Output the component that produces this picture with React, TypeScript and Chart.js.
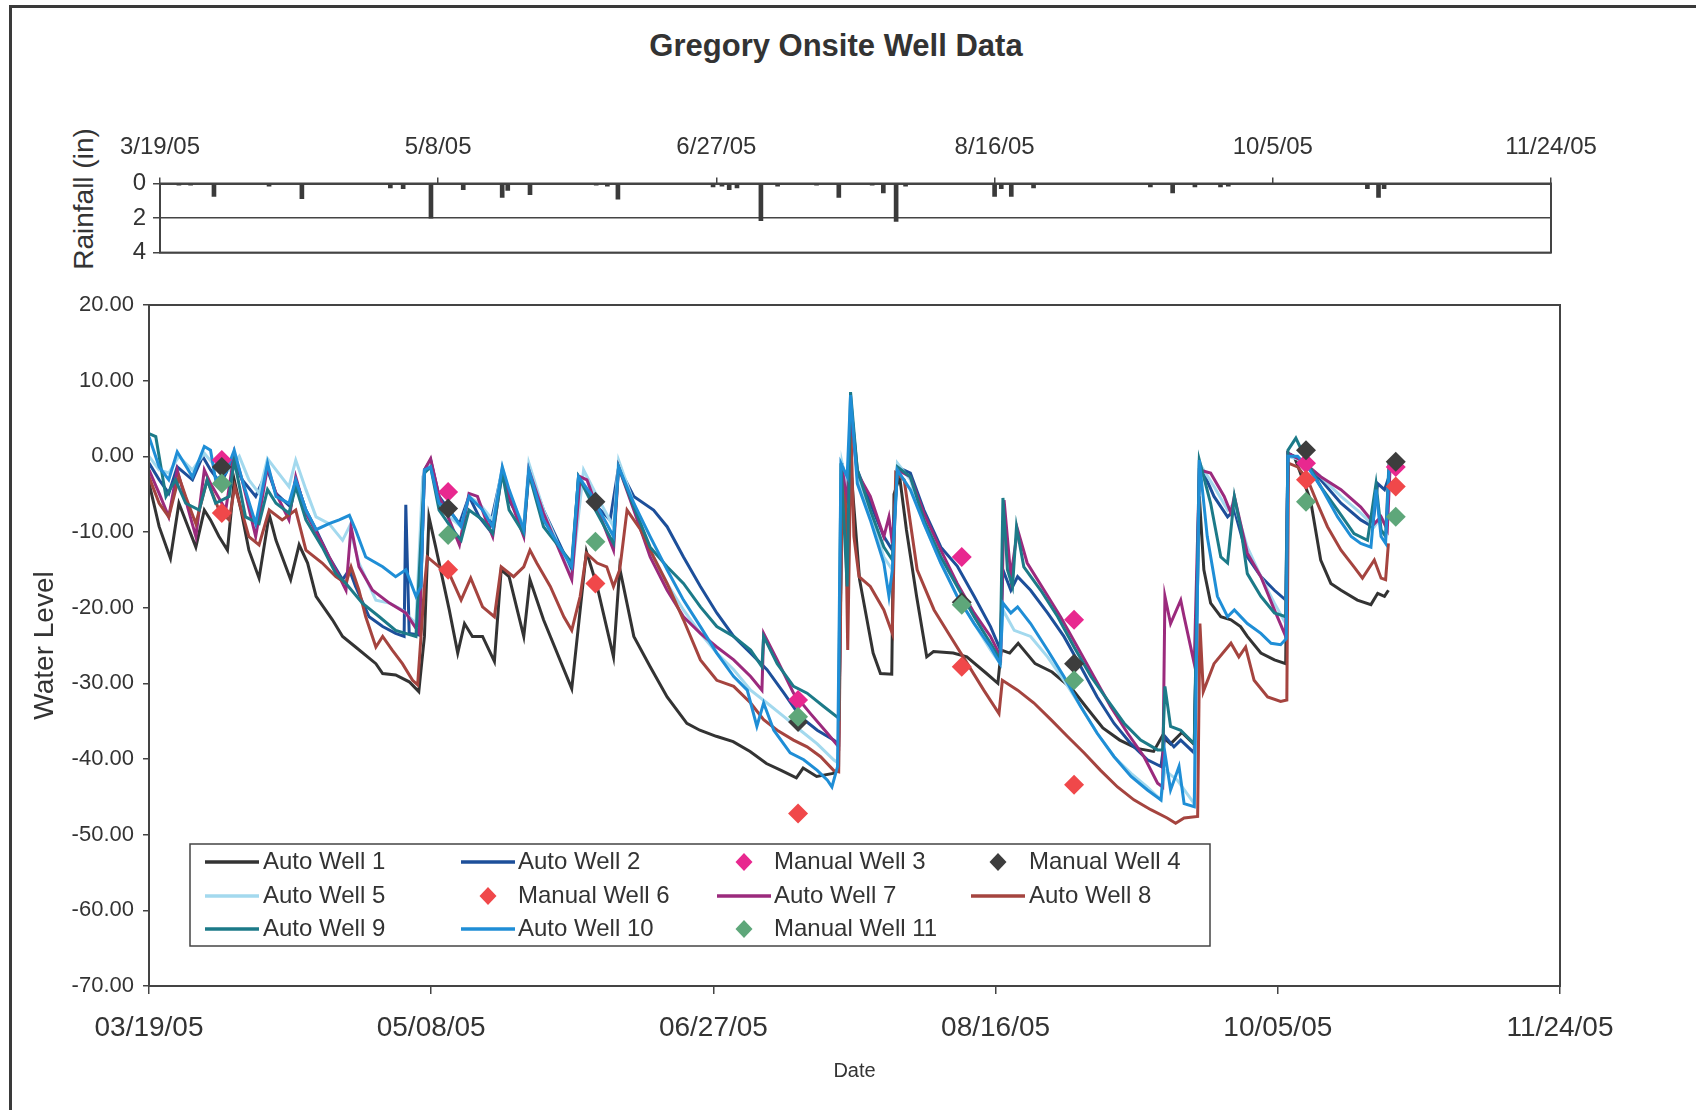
import React, { useEffect, useRef } from "react";
import { Chart, registerables } from "chart.js";

Chart.register(...registerables);

const FONT = "'Liberation Sans', Arial, Helvetica, sans-serif";
const TEXT = "#333333";
const AXIS = "#444444";

// ---------- tick labels ----------
const rainTickLabels = ["3/19/05", "5/8/05", "6/27/05", "8/16/05", "10/5/05", "11/24/05"];
const dateTickLabels = ["03/19/05", "05/08/05", "06/27/05", "08/16/05", "10/05/05", "11/24/05"];

// ---------- rainfall (days after 3/19/05, inches) ----------
const rainDays = [3.4, 5.5, 9.7, 19.6, 25.5, 41.4, 43.7, 48.7, 54.5, 61.5, 62.5, 66.5, 78.4, 80.4, 82.3, 99.4, 101, 102.3, 103.7, 108, 111, 118, 122, 128, 130, 132.3, 134, 150, 151.2, 153, 157, 178, 182, 186, 190.6, 192, 217, 219, 220];
const rainInches = [0.1, 0.1, 0.75, 0.15, 0.88, 0.25, 0.3, 2.0, 0.35, 0.8, 0.4, 0.65, 0.1, 0.15, 0.9, 0.2, 0.15, 0.35, 0.25, 2.15, 0.15, 0.1, 0.8, 0.1, 0.55, 2.2, 0.15, 0.75, 0.3, 0.75, 0.25, 0.2, 0.55, 0.2, 0.2, 0.15, 0.3, 0.8, 0.3];

// ---------- water level series: [day after 3/19/05, level] ----------
const autoWell1: [number, number][] = [[0,-3.5],[1.8,-9.3],[3.8,-13.5],[5.3,-6.2],[8.3,-12],[9.8,-7.1],[10.9,-8.4],[12.4,-10.6],[13.9,-12.4],[15.1,-3.1],[16.3,-7.1],[17.7,-12.4],[19.5,-16.1],[21.3,-7.7],[22.5,-11.1],[25.1,-16.3],[26.6,-11.7],[28.1,-14.1],[29.6,-18.5],[32.5,-21.6],[34.3,-23.8],[36.6,-25.2],[40.2,-27.4],[41.4,-28.7],[43.7,-28.9],[46.1,-29.8],[47.8,-31.1],[48.8,-23.8],[49.6,-8],[50.8,-12],[53.2,-20.3],[54.7,-26],[55.9,-22.1],[57.3,-23.8],[59.1,-23.8],[61.2,-27.1],[62.4,-15],[63.8,-15.9],[66.4,-23.8],[67.5,-16.3],[69.9,-21.6],[74.9,-30.7],[77.5,-12.6],[79.4,-17.2],[82.3,-26.5],[83.4,-14.8],[85.9,-23.8],[88.8,-27.8],[91.8,-31.8],[95.3,-35.3],[97.6,-36.2],[100.5,-37],[103.5,-37.7],[106.5,-39],[109.4,-40.6],[112,-41.5],[114.7,-42.5],[115.9,-41.2],[118.3,-42.3],[121.2,-41.9],[122.1,-41.5],[122.8,-5],[124.4,-2],[125.9,-16.3],[128.3,-26],[129.6,-28.7],[131.6,-28.8],[132,-5],[133,-2.7],[134.2,-9.7],[136,-18.5],[137.8,-26.5],[139,-25.8],[142.5,-26],[144.9,-26.5],[148.4,-28.7],[150.4,-30],[151,-25.6],[152.5,-26],[154,-24.7],[157,-27.4],[160,-28.5],[163.5,-30.7],[166,-33.1],[169,-35.9],[172,-37.5],[175,-38.6],[178,-39],[179.5,-37],[181,-38],[183,-36.5],[185.2,-38.1],[186.1,-5.3],[186.9,-15],[188.1,-19.4],[189.9,-21.2],[191.7,-21.6],[193.4,-22.5],[194.6,-23.8],[197,-26],[199.4,-26.9],[201.4,-27.4],[201.8,0.4],[202.9,0],[205.8,-5.8],[207.6,-13.7],[209.4,-16.8],[211.2,-17.7],[214.1,-19],[216.5,-19.6],[217.7,-18.1],[218.9,-18.5],[219.6,-17.7]];

const autoWell2: [number, number][] = [[0,-0.9],[1.8,-3.1],[3.5,-4.9],[5,-1.4],[7.7,-3.1],[9.5,0],[10.9,-1.8],[12.7,-3.6],[14.8,-0.5],[16.5,-3.1],[18.9,-5.3],[21,-1.8],[22.5,-4.9],[25.1,-6.7],[26,-3.1],[27.8,-7.1],[29.6,-9.7],[31.9,-13.3],[34.3,-16.3],[35.5,-15],[36.6,-17.2],[39,-21.2],[41.4,-22.5],[43.7,-23.4],[45.2,-23.8],[45.5,-6.4],[46.1,-23.4],[47.9,-23.6],[48.8,-1.8],[49.9,-0.5],[51.4,-5.3],[53.2,-7.1],[55,-8.9],[56.7,-5.3],[58.5,-8],[60.3,-9.7],[62.6,-1.8],[63.8,-5.8],[66.4,-9.3],[67.3,-1.8],[69.9,-7.1],[74.9,-15],[76.1,-2.7],[78.8,-6.2],[81.7,-8.4],[83.2,-1.4],[85.9,-5.3],[89.4,-7.1],[91.8,-9.3],[94.7,-13.3],[97.7,-17.2],[100.6,-20.7],[103.6,-23.8],[106.6,-26],[109.5,-28.2],[112.5,-31.3],[115.4,-34.4],[118.4,-36.2],[121.3,-37.5],[122.2,-38],[122.8,-0.9],[123.7,-5],[124.4,6.5],[125.5,-1.8],[127.8,-6.2],[130.2,-10.6],[131.7,-12.4],[132.6,-1.4],[134.9,-2.2],[137.3,-7.1],[140.3,-12],[143.2,-14.5],[146.2,-18.5],[149.1,-22.5],[150.8,-25.5],[151.3,-15],[152.7,-17.7],[153.9,-15.9],[156.2,-17.7],[159.2,-20.7],[162.1,-23.8],[165.1,-27.8],[168,-31.8],[171,-35.3],[174,-38],[176.9,-40.1],[179.3,-41],[180,-37],[181.6,-38.4],[182.8,-37.5],[185.2,-39.2],[186.1,-0.9],[188.7,-5.3],[191.1,-8],[192.3,-7.1],[194.6,-13.3],[197,-15.9],[199.4,-17.7],[201.4,-19],[201.8,0.4],[204.1,-0.5],[207.6,-3.1],[211.2,-6.2],[214.7,-8.4],[216.8,-9.3],[217.7,-3.6],[218.9,-4.4],[219.7,-2.7]];

const autoWell5: [number, number][] = [[0,0],[1.8,-1.8],[3.5,-2.2],[5.3,0],[7.7,-1.8],[9.8,0.4],[11.8,-1.4],[14.2,-1.8],[16,0],[17.7,-3.1],[19.5,-4.9],[21,-0.3],[22.5,-1.8],[24.8,-4],[26,-0.5],[27.8,-4.4],[29.6,-8],[31.9,-8.9],[34.3,-11.1],[35.5,-9.3],[37.2,-14.1],[40.2,-19],[42.6,-19.4],[44.9,-20.3],[47.3,-22.1],[48.5,-2.7],[49.9,-0.9],[51.4,-5.8],[53.2,-8],[55.3,-9.3],[56.7,-5.3],[58.5,-6.2],[60.9,-8.4],[62.6,-1.4],[63.8,-4.9],[66.4,-9.3],[67.3,-0.9],[69.9,-7.1],[74.9,-15.9],[77,-1.8],[79.4,-5.3],[82.3,-9.3],[83.2,-0.5],[85.9,-6.2],[88.8,-12.4],[91.8,-16.8],[94.7,-20.3],[97.7,-23.4],[100.6,-26],[103.6,-28.2],[106.6,-30.9],[109.5,-32.6],[112.5,-34.4],[115.4,-36.2],[118.4,-38],[121.3,-40.1],[122.2,-40.6],[122.8,-0.9],[123.7,-4],[124.4,6.1],[125.5,-2.7],[127.8,-7.5],[130.2,-13.3],[131.7,-15],[132.6,-0.9],[134.9,-3.1],[137.3,-8.9],[140.3,-14.1],[143.2,-18.5],[146.2,-22.1],[149.1,-25.6],[150.8,-27.4],[151.3,-20.3],[153.3,-23],[156.2,-23.8],[159.2,-26.5],[162.1,-29.6],[165.1,-33.1],[168,-36.6],[171,-39.7],[174,-41.9],[176.9,-43.7],[179.3,-45.4],[180,-41.5],[182.2,-42.8],[185.2,-45.9],[186.1,-0.9],[188.7,-4],[191.1,-7.1],[192.3,-6.2],[194.6,-12],[197,-15.9],[199.4,-19.4],[201.4,-22.1],[201.8,0],[204.1,-0.5],[207.6,-2.7],[211.2,-5.3],[214.7,-7.5],[217.1,-9.3],[218.3,-8],[219.4,-9.3]];

const autoWell7: [number, number][] = [[0,-1.8],[1.8,-4.9],[3.5,-8],[5,-1.8],[8.3,-10.6],[9.8,-1.8],[10.9,-3.6],[13.6,-7.1],[15.1,0.4],[16.5,-3.1],[18.9,-10.6],[21,-1.4],[22.5,-4.9],[24.8,-8.4],[26,-2.7],[27.8,-7.5],[30.7,-11.5],[33.1,-15],[34.9,-17.7],[35.8,-9.3],[37.2,-14.6],[39.6,-17.7],[42.6,-19.4],[45.5,-20.7],[47.9,-23.4],[48.8,-1.8],[49.9,-0.3],[51.4,-5.3],[53.2,-8.4],[55,-11.7],[56.7,-4.9],[58.2,-5.3],[59.7,-8.4],[60.9,-10.6],[62.6,-1.8],[63.8,-5.3],[66.4,-10.6],[67.3,-1.8],[69.9,-7.5],[74.9,-16.3],[76.4,-2.7],[77.6,-3.1],[80,-8],[82.3,-12.4],[83.2,-1.4],[85.9,-7.1],[88.8,-13.3],[91.8,-17.7],[94.7,-21.2],[97.7,-23.4],[100.6,-25.2],[103.6,-26.9],[106.6,-29.1],[108.6,-30.9],[108.9,-23.4],[111.3,-26.9],[114.2,-31.3],[117.2,-34],[120.2,-36.6],[122.2,-38.4],[122.8,-1.4],[123.7,-6.2],[124.4,4.8],[125.5,-2.2],[127.8,-5.3],[130.2,-10.6],[131.1,-8],[131.7,-11.5],[132.6,-1.8],[134.9,-2.7],[137.3,-7.5],[140.3,-12.4],[143.2,-16.8],[146.2,-20.7],[149.1,-23.8],[150.9,-26.5],[151.5,-5.8],[152.7,-15.9],[153.9,-9.7],[155.6,-14.1],[158.6,-17.7],[161.5,-21.2],[164.5,-25.2],[167.4,-29.1],[170.4,-33.1],[173.4,-36.6],[176.3,-39.7],[178.7,-43.2],[179.6,-43.7],[180,-18.5],[181,-22.1],[182.8,-19],[183.4,-21.2],[185.2,-27.4],[186.1,-1.8],[188.1,-2.2],[190.5,-5.3],[191.7,-7.5],[192.3,-5.3],[194.6,-12.8],[197,-15.9],[199.4,-20.3],[201.4,-23.8],[201.8,0.4],[204.1,-0.5],[207.6,-2.7],[211.2,-4.4],[214.7,-6.7],[217.1,-8.9],[218.3,-8],[219.4,-9.7],[219.9,-1.4]];

const autoWell8: [number, number][] = [[0,-2.7],[1.8,-6.2],[3.5,-8],[5.3,-2.7],[6.5,-5.3],[8.3,-8.9],[10.3,-3.1],[12.4,-7.1],[14.2,-8.4],[15.2,-4],[17.7,-10.6],[19.5,-11.7],[21.3,-7.1],[23.6,-8.4],[26,-7.1],[27.8,-12.4],[30.7,-14.1],[33.1,-15.9],[34.9,-16.8],[35.8,-14.6],[37.2,-17.7],[38.4,-21.2],[40.2,-25.2],[41.4,-23.8],[43.1,-25.6],[44.9,-27.4],[46.7,-29.6],[47.6,-30.2],[48.8,-17.2],[49.3,-13.3],[51.4,-14.6],[53.2,-15.5],[55.3,-19],[57,-16.1],[59.1,-19.9],[61.2,-21.2],[62.4,-14.6],[64.6,-15.9],[66.4,-14.6],[67.5,-12.4],[68.7,-14.1],[71.1,-17.2],[73.5,-21.2],[74.9,-23],[76.4,-18.5],[77.5,-12.8],[79.4,-14.1],[81.1,-14.6],[82.3,-17.2],[83.4,-15],[84.7,-7.1],[87.1,-9.7],[89.4,-13.3],[91.8,-16.8],[94.7,-21.6],[97.7,-26.9],[100.6,-29.6],[103.6,-30.4],[106.6,-32.6],[108.9,-34.8],[111.3,-36.2],[114.2,-37.5],[116.6,-38.4],[119,-39.7],[121.3,-41.5],[122.2,-41.7],[122.8,-4],[123.4,-6.2],[123.8,-25.6],[124.4,2.6],[124.9,-10.6],[125.8,-15.9],[127.8,-17.2],[130.2,-20.3],[131.7,-23.4],[132.3,-2.2],[133.8,-3.1],[136.1,-15],[139.1,-20.3],[142,-23.8],[145,-27.4],[147.9,-30.9],[150.6,-34],[151.2,-29.6],[153.9,-30.9],[156.8,-32.6],[159.8,-34.8],[162.7,-37],[165.7,-39.2],[168.6,-41.5],[171.6,-43.7],[174.5,-45.4],[177.5,-46.7],[180.4,-47.8],[181.9,-48.5],[183.4,-47.8],[185.8,-47.6],[186.2,-22.1],[186.8,-31.1],[188.7,-27.4],[191.7,-24.7],[193.1,-26.5],[194.3,-25.2],[195.8,-29.6],[198.2,-31.8],[200.5,-32.4],[201.6,-32.2],[201.9,-0.9],[203.5,-1.4],[205.3,-3.1],[207,-6.2],[208.8,-9.3],[211.2,-12.4],[213.5,-14.6],[215,-16.1],[217.1,-13.7],[218.3,-16.1],[219.1,-16.3],[219.6,-11.5]];

const autoWell9: [number, number][] = [[0,3],[1.2,2.6],[3,-5.3],[4.7,-3.1],[6.5,-6.2],[8.9,-7.1],[10.3,-3.1],[11.8,-6.2],[14.2,-5.3],[15.1,-0.5],[17.1,-8],[19.5,-8.9],[21,-4.4],[22.5,-6.2],[24.8,-7.5],[26,-4],[27.8,-8.4],[30.7,-12],[33.1,-15.5],[34.9,-16.8],[37.8,-19.4],[40.8,-21.2],[43.7,-23],[47.3,-23.8],[48.8,-2.2],[49.9,-1.4],[51.4,-7.1],[53.8,-9.7],[55.3,-11.1],[56.7,-7.1],[59.1,-8.4],[60.9,-10.2],[62.6,-2.2],[63.8,-7.1],[66.4,-10.2],[67.3,-2.2],[69.9,-9.3],[74.9,-14.1],[76.1,-2.7],[78.8,-6.7],[82.3,-11.5],[83.2,-1.4],[85.9,-6.7],[88.8,-12],[91.8,-14.6],[94.7,-16.8],[97.7,-19.9],[100.6,-22.5],[103.6,-23.8],[106.6,-25.6],[108.6,-27.8],[108.9,-23.8],[111.3,-27.4],[114.2,-30.4],[116.6,-31.3],[119.6,-33.1],[122.2,-34.6],[122.6,-0.9],[123.7,-17.2],[124.3,8.5],[125.5,-1.8],[127.8,-7.1],[130.2,-12],[131.7,-13.7],[132.6,-1.4],[134.9,-2.7],[137.3,-8.4],[140.3,-13.3],[143.2,-17.2],[146.2,-21.2],[149.1,-24.7],[150.8,-26.9],[151.3,-5.5],[152.1,-15],[153,-17.2],[153.7,-9.3],[155,-14.6],[158,-17.7],[161,-21.2],[163.9,-25.2],[166.9,-29.1],[169.8,-32.2],[172.8,-35.3],[175.7,-37.5],[178.7,-38.8],[179.6,-38.8],[180,-30.4],[181,-35.7],[182.8,-36.2],[185.2,-38],[186.1,-0.5],[188.1,-6.2],[189.9,-13.3],[191.1,-14.1],[192.3,-5.3],[193.4,-9.3],[194.6,-15.5],[197,-18.5],[199.4,-20.7],[201.4,-21.2],[201.8,0.8],[203.2,2.4],[205.3,-0.9],[207.6,-4],[210.6,-7.1],[213.5,-10.2],[215.9,-11.1],[217.4,-3.6],[218.3,-9.7],[219.1,-10.6],[219.7,-0.9]];

const autoWell10: [number, number][] = [[0,2.6],[1.8,-1.4],[3.5,-3.1],[5,0.6],[7.7,-2.7],[9.8,1.3],[10.9,0.8],[11.8,-3.1],[13.6,-2.2],[15.1,0.8],[16.5,-3.1],[18.9,-8.9],[21,-0.9],[22.5,-5.3],[24.8,-6.2],[26,-3.1],[27.8,-7.1],[29.6,-9.7],[31.9,-8.9],[33.7,-8.4],[35.5,-7.8],[36.6,-9.7],[38.4,-13.3],[41.4,-14.6],[43.7,-15.9],[45.5,-15],[47.3,-18.5],[48.2,-17.2],[48.8,-1.8],[49.9,-1.4],[51.4,-6.2],[53.2,-7.1],[55.3,-9.3],[56.7,-5.3],[59.1,-7.1],[60.9,-9.3],[62.6,-1.4],[63.8,-4.4],[66.4,-9.7],[67.3,-1.8],[69.9,-8.4],[74.9,-14.6],[76.1,-2.7],[78.2,-4.9],[82.3,-10.6],[83.2,-1.4],[85.9,-6.2],[88.8,-10.6],[91.8,-15],[94.7,-19],[97.7,-22.5],[100.6,-26],[103.6,-29.1],[106,-30.9],[107.7,-35.7],[108.9,-32.6],[110.7,-36.2],[113.6,-39.2],[116,-40.1],[118.4,-41.5],[120.2,-42.8],[121,-43.7],[122,-41],[122.6,-0.9],[123.7,-2.7],[124.3,8.1],[125.5,-3.6],[127.8,-8.4],[130.2,-14.1],[131.1,-18.5],[131.7,-15],[132.6,-1.8],[134.9,-4.4],[137.3,-8.9],[140.3,-14.1],[143.2,-18.5],[146.2,-22.1],[149.1,-25.2],[150.8,-27.4],[151.3,-19.4],[152.7,-20.7],[153.9,-19.9],[156.2,-22.1],[159.2,-25.6],[162.1,-29.1],[165.1,-33.1],[168,-36.6],[171,-39.7],[174,-42.3],[176.9,-44.1],[179.3,-45.4],[180,-39.2],[181,-44.1],[182.5,-41],[183.4,-45.9],[185.2,-46.3],[186.1,-0.5],[187.5,-10.6],[189.3,-18.5],[191.1,-21.2],[192.3,-20.3],[194.6,-22.1],[197,-23.4],[198.8,-24.7],[200.5,-24.9],[201.5,-24.1],[201.8,0],[203.5,0],[205.3,-1.4],[207.6,-4],[210.6,-8],[213,-10.6],[214.7,-11.5],[216.5,-12],[217.4,-4.4],[218.3,-10.6],[219.1,-11.5],[219.7,-1.8]];

// ---------- manual readings ----------
const manualDays = [12.9, 53, 79.1, 115, 144, 163.9, 205, 220.9];
const manualWell3 = [-0.5, -4.7, null, -32.2, -13.3, -21.6, -0.9, -1.4];
const manualWell4 = [-1.4, -6.9, -6.0, -35.1, -19.3, -27.4, 0.8, -0.7];
const manualWell6 = [-7.5, -15.0, -16.8, -47.2, -27.8, -43.4, -3.1, -4.0];
const manualWell11 = [-3.6, -10.4, -11.3, -34.4, -19.6, -29.6, -6.0, -8.0];

// ---------- plugins ----------
const frameBox = {
  id: "frameBox",
  afterDraw(chart: any, _args: any, opts: any) {
    const { ctx, chartArea: a } = chart;
    ctx.save();
    ctx.strokeStyle = opts.color || AXIS;
    ctx.lineWidth = opts.width || 2;
    ctx.strokeRect(a.left, a.top, a.right - a.left, a.bottom - a.top);
    ctx.restore();
  },
};

const gridLegend = {
  id: "gridLegend",
  afterDraw(chart: any, _args: any, o: any) {
    if (!o || !o.box) return;
    const ctx = chart.ctx;
    const [bx, by, bw, bh] = o.box;
    ctx.save();
    ctx.fillStyle = "#ffffff";
    ctx.fillRect(bx, by, bw, bh);
    ctx.strokeStyle = AXIS;
    ctx.lineWidth = 1.5;
    ctx.strokeRect(bx, by, bw, bh);
    ctx.font = `${o.fontSize}px ${FONT}`;
    ctx.textBaseline = "middle";
    ctx.textAlign = "left";
    chart.data.datasets.forEach((ds: any, i: number) => {
      const col = i % o.cols;
      const row = Math.floor(i / o.cols);
      const cx = o.markX[col];
      const cy = o.rowY[row];
      const color = ds.borderColor;
      if (ds.type === "scatter") {
        ctx.fillStyle = color;
        ctx.beginPath();
        ctx.moveTo(cx - 8.5, cy);
        ctx.lineTo(cx, cy - 9);
        ctx.lineTo(cx + 8.5, cy);
        ctx.lineTo(cx, cy + 9);
        ctx.closePath();
        ctx.fill();
      } else {
        ctx.strokeStyle = color;
        ctx.lineWidth = 3.5;
        ctx.beginPath();
        ctx.moveTo(cx - o.lineHalf, cy);
        ctx.lineTo(cx + o.lineHalf, cy);
        ctx.stroke();
      }
      ctx.fillStyle = TEXT;
      ctx.fillText(ds.label, o.textX[col], cy);
    });
    ctx.restore();
  },
};

function lineSet(label: string, pts: [number, number][], color: string, order: number) {
  return {
    type: "line",
    label,
    data: pts.map(([x, y]) => ({ x, y })),
    borderColor: color,
    backgroundColor: color,
    borderWidth: 3,
    pointRadius: 0,
    pointHoverRadius: 0,
    tension: 0,
    fill: false,
    order,
  };
}

function manualSet(label: string, vals: (number | null)[], color: string, order: number) {
  const data = manualDays
    .map((x, i) => ({ x, y: vals[i] }))
    .filter((p) => p.y !== null);
  return {
    type: "scatter",
    label,
    data,
    showLine: false,
    borderColor: color,
    backgroundColor: color,
    pointStyle: "rectRot",
    pointRadius: 10,
    pointBorderWidth: 0,
    order,
  };
}

function RainChart() {
  const ref = useRef<HTMLCanvasElement>(null);
  useEffect(() => {
    if (!ref.current) return;
    const chart = new Chart(ref.current, {
      type: "bar",
      data: {
        datasets: [
          {
            label: "Rainfall (in)",
            data: rainDays.map((x, i) => ({ x, y: rainInches[i] })),
            backgroundColor: "#3a3a3a",
            borderWidth: 0,
            barThickness: 4,
          } as any,
        ],
      },
      options: {
        responsive: false,
        animation: false,
        events: [],
        layout: { padding: { left: 0, right: 145, top: 0, bottom: 0 } },
        plugins: {
          legend: { display: false },
          tooltip: { enabled: false },
          frameBox: { color: AXIS, width: 2 },
        } as any,
        scales: {
          x: {
            type: "linear",
            position: "top",
            min: 0,
            max: 250,
            offset: false,
            ticks: {
              stepSize: 50,
              autoSkip: false,
              maxRotation: 0,
              padding: 16,
              color: TEXT,
              font: { family: FONT, size: 24 },
              callback: (v: any) => rainTickLabels[Math.round(Number(v) / 50)],
            },
            grid: { drawOnChartArea: false, offset: false, tickLength: 6, color: AXIS, lineWidth: 1.5 },
            border: { display: true, color: AXIS, width: 2 },
            afterFit: (s: any) => {
              s.height = 83.5;
            },
          },
          y: {
            reverse: true,
            min: 0,
            max: 4,
            ticks: {
              stepSize: 2,
              padding: 7,
              color: TEXT,
              font: { family: FONT, size: 24 },
            },
            grid: { color: AXIS, lineWidth: 1.5, tickLength: 7 },
            border: { display: true, color: AXIS, width: 2 },
            afterFit: (s: any) => {
              s.width = 160;
            },
          },
        },
      } as any,
      plugins: [frameBox],
    });
    return () => chart.destroy();
  }, []);
  return (
    <canvas
      ref={ref}
      width={1696}
      height={174}
      style={{ position: "absolute", left: 0, top: 100, width: 1696, height: 174 }}
    />
  );
}

function WellChart() {
  const ref = useRef<HTMLCanvasElement>(null);
  useEffect(() => {
    if (!ref.current) return;
    const datasets: any[] = [
      lineSet("Auto Well 1", autoWell1, "#333333", 20),
      lineSet("Auto Well 2", autoWell2, "#1d4f9a", 19),
      manualSet("Manual Well 3", manualWell3, "#e8288f", 4),
      manualSet("Manual Well 4", manualWell4, "#3d3d3d", 3),
      lineSet("Auto Well 5", autoWell5, "#a3d9ee", 18),
      manualSet("Manual Well 6", manualWell6, "#f0484a", 2),
      lineSet("Auto Well 7", autoWell7, "#9b2a7d", 17),
      lineSet("Auto Well 8", autoWell8, "#a5443f", 16),
      lineSet("Auto Well 9", autoWell9, "#1c7a88", 15),
      lineSet("Auto Well 10", autoWell10, "#1f8ed6", 14),
      manualSet("Manual Well 11", manualWell11, "#5ea77a", 1),
    ];
    const chart = new Chart(ref.current, {
      type: "line",
      data: { datasets },
      options: {
        responsive: false,
        animation: false,
        events: [],
        layout: { padding: { left: 0, right: 136, top: 35, bottom: 0 } },
        plugins: {
          legend: { display: false },
          tooltip: { enabled: false },
          frameBox: { color: AXIS, width: 2 },
          gridLegend: {
            box: [190, 574, 1020, 102],
            cols: 4,
            rowY: [592, 626, 659],
            markX: [232, 488, 744, 998],
            textX: [263, 518, 774, 1029],
            lineHalf: 27,
            fontSize: 24,
          },
        } as any,
        scales: {
          x: {
            type: "linear",
            min: 0,
            max: 250,
            ticks: {
              stepSize: 50,
              autoSkip: false,
              maxRotation: 0,
              padding: 17,
              color: TEXT,
              font: { family: FONT, size: 28 },
              callback: (v: any) => dateTickLabels[Math.round(Number(v) / 50)],
            },
            grid: { drawOnChartArea: false, tickLength: 8, color: AXIS, lineWidth: 1.5 },
            border: { display: true, color: AXIS, width: 2 },
            title: {
              display: true,
              text: "Date",
              color: TEXT,
              font: { family: FONT, size: 20 },
              padding: { top: 0, bottom: 27 },
            },
            afterFit: (s: any) => {
              s.height = 124;
            },
          },
          y: {
            min: -70,
            max: 20,
            ticks: {
              stepSize: 10,
              padding: 9,
              color: TEXT,
              font: { family: FONT, size: 22 },
              callback: (v: any) => Number(v).toFixed(2),
            },
            grid: { drawOnChartArea: false, tickLength: 6, color: AXIS, lineWidth: 1.5 },
            border: { display: true, color: AXIS, width: 2 },
            title: {
              display: true,
              text: "Water Level",
              color: TEXT,
              font: { family: FONT, size: 28 },
              padding: { top: 28, bottom: 0 },
            },
            afterFit: (s: any) => {
              s.width = 149;
            },
          },
        },
      } as any,
      plugins: [frameBox, gridLegend],
    });
    return () => chart.destroy();
  }, []);
  return (
    <canvas
      ref={ref}
      width={1696}
      height={840}
      style={{ position: "absolute", left: 0, top: 270, width: 1696, height: 840 }}
    />
  );
}

export default function App() {
  return (
    <div
      style={{
        position: "absolute",
        left: 0,
        top: 0,
        width: 1696,
        height: 1110,
        overflow: "hidden",
        background: "#ffffff",
        fontFamily: FONT,
        color: TEXT,
      }}
    >
      <div
        style={{
          position: "absolute",
          left: 9,
          top: 5,
          width: 1700,
          height: 1120,
          borderLeft: "3px solid #3a3a3a",
          borderTop: "3px solid #3a3a3a",
        }}
      />
      <div
        style={{
          position: "absolute",
          left: 0,
          top: 28,
          width: 1672,
          textAlign: "center",
          fontSize: 31,
          lineHeight: "36px",
          fontWeight: "bold",
          color: TEXT,
        }}
      >
        Gregory Onsite Well Data
      </div>
      <div
        style={{
          position: "absolute",
          left: 84,
          top: 199,
          transform: "translate(-50%, -50%) rotate(-90deg)",
          whiteSpace: "nowrap",
          fontSize: 28,
          lineHeight: "32px",
          color: TEXT,
        }}
      >
        Rainfall (in)
      </div>
      <RainChart />
      <WellChart />
    </div>
  );
}
